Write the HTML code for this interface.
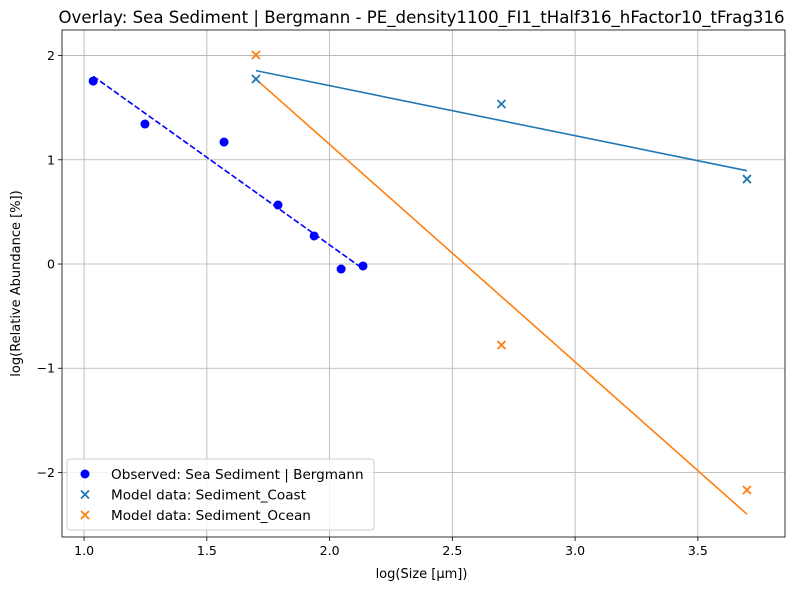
<!DOCTYPE html>
<html><head><meta charset="utf-8">
<style>
body{margin:0;background:#fff;}
svg text{font-family:"DejaVu Sans","Liberation Sans",sans-serif;fill:#000;}
</style></head>
<body>
<svg id="chart" width="793" height="590" xmlns="http://www.w3.org/2000/svg"></svg>
<script>
const xTicks=[1.0,1.5,2.0,2.5,3.0,3.5];
const yTicks=[2,1,0,-1,-2];
const yTickLabels=["2","1","0","\u22121","\u22122"];
const obsX=[1.037,1.248,1.570,1.790,1.937,2.047,2.136];
const obsY=[1.755,1.343,1.17,0.566,0.269,-0.048,-0.019];
const coastX=[1.7,2.7,3.7];
const coastY=[1.775,1.535,0.815];
const oceanX=[1.7,2.7,3.7];
const oceanY=[2.005,-0.777,-2.168];

const L=62,R=785,T=30,B=537,xmin=0.910,xmax=3.855,ymin=-2.619,ymax=2.245;
const sx=v=>L+(v-xmin)/(xmax-xmin)*(R-L);
const sy=v=>B-(v-ymin)/(ymax-ymin)*(B-T);
const svg=document.getElementById('chart');
const NS='http://www.w3.org/2000/svg';
function mk(tag,attrs,parent){const e=document.createElementNS(NS,tag);for(const k in attrs)e.setAttribute(k,attrs[k]);(parent||svg).appendChild(e);return e;}
function fit(xs,ys){const n=xs.length,mx=xs.reduce((a,b)=>a+b)/n,my=ys.reduce((a,b)=>a+b)/n;let num=0,den=0;for(let i=0;i<n;i++){num+=(xs[i]-mx)*(ys[i]-my);den+=(xs[i]-mx)**2;}const m=num/den;return x=>my+m*(x-mx);}

let t=mk('text',{x:(L+R)/2-2,y:23,'text-anchor':'middle','font-size':16.6});
t.textContent='Overlay: Sea Sediment | Bergmann - PE_density1100_FI1_tHalf316_hFactor10_tFrag316';



xTicks.forEach(v=>{
 const g=mk('line',{x1:sx(v),x2:sx(v),y1:T,y2:B,stroke:'#b0b0b0','stroke-width':0.8});
 
 
 mk('line',{x1:sx(v),x2:sx(v),y1:B,y2:B+4,stroke:'#000','stroke-width':0.8});
 const tl=mk('text',{x:sx(v),y:B+18,'text-anchor':'middle','font-size':12.5});
 tl.textContent=v.toFixed(1);
 
 
});
yTicks.forEach((v,i)=>{
 const g=mk('line',{x1:L,x2:R,y1:sy(v),y2:sy(v),stroke:'#b0b0b0','stroke-width':0.8});
 
 
 mk('line',{x1:L-4,x2:L,y1:sy(v),y2:sy(v),stroke:'#000','stroke-width':0.8});
 const tl=mk('text',{x:L-7,y:sy(v)+4.5,'text-anchor':'end','font-size':12.5});
 tl.textContent=yTickLabels[i];
 
 
});

function fitLine(xs,ys,color,dash,name){
 const f=fit(xs,ys),x0=Math.min(...xs),x1=Math.max(...xs);
 const l=mk('line',{x1:sx(x0),y1:sy(f(x0)),x2:sx(x1),y2:sy(f(x1)),stroke:color,'stroke-width':1.6});
 if(dash)l.setAttribute('stroke-dasharray','6,2.5');
 
 
}
fitLine(obsX,obsY,'#0000ff',true,'observed-fit-line');
fitLine(coastX,coastY,'#1f77b4',false,'coast-fit-line');
fitLine(oceanX,oceanY,'#ff7f0e',false,'ocean-fit-line');

obsX.forEach((x,i)=>{
 const c=mk('circle',{cx:sx(x),cy:sy(obsY[i]),r:4.5,fill:'#0000ff'});
 
 
});
function cross(cx,cy,color,parent){const s=4;const g=mk('g',{stroke:color,'stroke-width':1.8},parent);mk('line',{x1:cx-s,y1:cy-s,x2:cx+s,y2:cy+s},g);mk('line',{x1:cx-s,y1:cy+s,x2:cx+s,y2:cy-s},g);return g;}
coastX.forEach((x,i)=>{
 const g=cross(sx(x),sy(coastY[i]),'#1f77b4');
 
 
});
oceanX.forEach((x,i)=>{
 const g=cross(sx(x),sy(oceanY[i]),'#ff7f0e');
 
 
});

const fr=mk('rect',{x:L,y:T,width:R-L,height:B-T,fill:'none',stroke:'#000','stroke-width':0.8});



let xl=mk('text',{x:(L+R)/2-2,y:578,'text-anchor':'middle','font-size':13});
xl.textContent='log(Size [\u03bcm])';


let yl=mk('text',{x:0,y:0,'text-anchor':'middle','font-size':13,transform:`translate(20,${(T+B)/2}) rotate(-90)`});
yl.textContent='log(Relative Abundance [%])';



const lg=mk('g',{});


mk('rect',{x:67,y:459,width:307,height:71,rx:3,fill:'#fff','fill-opacity':0.8,stroke:'#ccc'},lg);
const entries=[['Observed: Sea Sediment | Bergmann','#0000ff','o'],['Model data: Sediment_Coast','#1f77b4','x'],['Model data: Sediment_Ocean','#ff7f0e','x']];
entries.forEach((e,i)=>{
 const y=474+i*20.5;
 const eg=mk('g',{},lg);
 
 
 if(e[2]==='o')mk('circle',{cx:85,cy:y,r:4.5,fill:e[1]},eg);else cross(85,y,e[1],eg);
 const tx=mk('text',{x:111,y:y+5,'font-size':13.6},eg);tx.textContent=e[0];
});
</script>
</body></html>
